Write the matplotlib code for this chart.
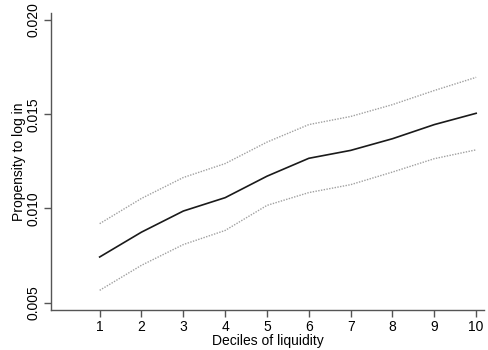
import matplotlib.pyplot as plt
import numpy as np

plt.rcParams["font.family"] = ["Liberation Sans", "DejaVu Sans"]

# Decis de liquidez e estimativas
decis = [1, 2, 3, 4, 5, 6, 7, 8, 9, 10]
media = [0.00742, 0.00874, 0.00986, 0.01057, 0.01171, 0.01266, 0.01308, 0.01370, 0.01445, 0.01505]
superior = [0.00919, 0.01053, 0.01164, 0.01238, 0.01352, 0.01445, 0.01488, 0.01551, 0.01626, 0.01696]
inferior = [0.00565, 0.00698, 0.00808, 0.00883, 0.01016, 0.01084, 0.01126, 0.01193, 0.01264, 0.01311]

y_ticks = [0.005, 0.010, 0.015, 0.020]

fig = plt.figure(figsize=(4.89, 3.5), dpi=100)
ax = fig.add_axes([0.1037, 0.1129, 0.8863, 0.8508])

ax.plot(decis, media, color="#1a1a1a", lw=1.2)
ax.plot(decis, superior, color="#a0a0a0", lw=1.0, ls=(0, (1, 1)))
ax.plot(decis, inferior, color="#a0a0a0", lw=1.0, ls=(0, (1, 1)))

ax.set_xlim(-0.17, 10.19)
ax.set_ylim(0.00458, 0.02039)
ax.set_xticks(decis)
ax.set_yticks(y_ticks)
ax.set_yticklabels([f"{v:.3f}" for v in y_ticks], rotation=90, va="center")

for lado in ["top", "right"]:
    ax.spines[lado].set_visible(False)
for lado in ["left", "bottom"]:
    ax.spines[lado].set_color("#555555")
    ax.spines[lado].set_linewidth(1.0)

ax.tick_params(axis="both", length=5, width=1.0, color="#555555", labelsize=10, pad=2)

ax.set_xlabel("Deciles of liquidity", fontsize=10, labelpad=0)
ax.set_ylabel("Propensity to log in", fontsize=10, labelpad=1)

plt.savefig("out.png", dpi=100)
